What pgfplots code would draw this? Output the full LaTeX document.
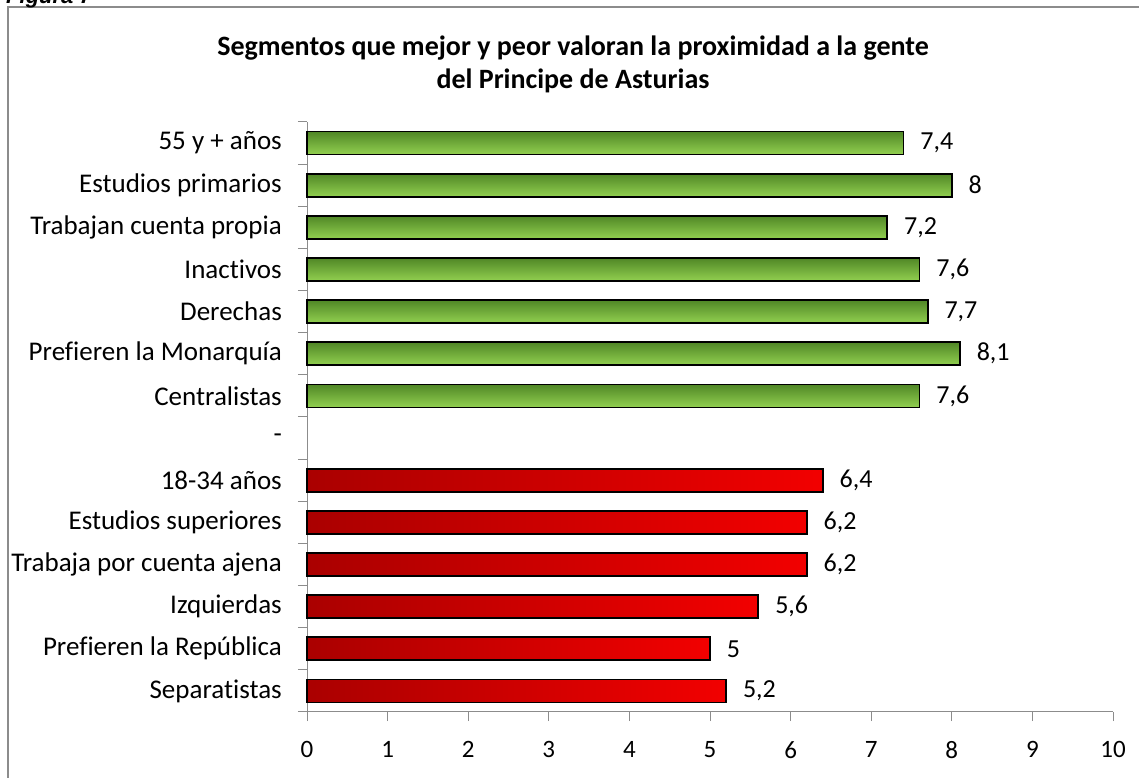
\documentclass[border=0pt]{standalone}
\usepackage{pgfplots}
\pgfplotsset{compat=1.18}
\usepackage{fontspec}
\setmainfont{Carlito}[Ligatures=NoCommon]
\newfontfamily\arialfont{Liberation Sans}
\definecolor{gtop}{RGB}{80,135,38}
\definecolor{gbot}{RGB}{146,208,80}
\definecolor{rleft}{RGB}{170,0,0}
\definecolor{rright}{RGB}{242,0,0}
\definecolor{axgray}{RGB}{140,140,140}
\pgfplotsset{
  gbar/.style={xbar, bar shift=0pt, bar width=23bp, draw=black, line width=1.8bp, top color=gtop, bottom color=gbot},
  rbar/.style={xbar, bar shift=0pt, bar width=23bp, draw=black, line width=1.8bp, left color=rleft, right color=rright},
}
\begin{document}
\begin{tikzpicture}[x=1bp,y=1bp]
\begin{axis}[
  at={(307bp,66bp)}, anchor=south west,
  scale only axis, width=806bp, height=590bp,
  xmin=0, xmax=10, ymin=-0.5, ymax=13.5,
  axis lines*=left,
  axis line style={draw=axgray, line width=1bp},
  xtick={0,1,...,10},
  ytick={-0.5,0.5,...,13.5},
  yticklabels={Separatistas,Prefieren la República,Izquierdas,Trabaja por cuenta ajena,Estudios superiores,18-34 años,-,Centralistas,Prefieren la Monarquía,Derechas,Inactivos,Trabajan cuenta propia,Estudios primarios,55 y + años,{}},
  yticklabel style={font=\fontsize{27bp}{32bp}\selectfont, yshift=21.07bp, anchor=east, inner sep=0pt, xshift=-16bp},
  xticklabel style={font=\fontsize{25bp}{30bp}\selectfont, inner sep=0pt, yshift=-20bp},
  /pgf/number format/assume math mode=true,
  tick align=outside,
  major tick length=9bp,
  tick style={draw=axgray, line width=1bp},
  clip=false,
  point meta=explicit symbolic,
  nodes near coords,
  nodes near coords style={font=\fontsize{26bp}{30bp}\selectfont, anchor=west, inner sep=0pt, xshift=16bp},
]
\addplot[gbar] coordinates {(7.4,13) [7,4]};
\addplot[gbar] coordinates {(8,12) [8]};
\addplot[gbar] coordinates {(7.2,11) [7,2]};
\addplot[gbar] coordinates {(7.6,10) [7,6]};
\addplot[gbar] coordinates {(7.7,9) [7,7]};
\addplot[gbar] coordinates {(8.1,8) [8,1]};
\addplot[gbar] coordinates {(7.6,7) [7,6]};
\addplot[rbar] coordinates {(6.4,5) [6,4]};
\addplot[rbar] coordinates {(6.2,4) [6,2]};
\addplot[rbar] coordinates {(6.2,3) [6,2]};
\addplot[rbar] coordinates {(5.6,2) [5,6]};
\addplot[rbar] coordinates {(5,1) [5]};
\addplot[rbar] coordinates {(5.2,0) [5,2]};
\end{axis}
\node[font=\fontsize{28bp}{33bp}\selectfont\bfseries, align=center] at (573bp,714bp) {Segmentos que mejor y peor valoran la proximidad a la gente\\del Principe de Asturias};
\draw[axgray, line width=1.2bp] (8bp,-5bp) -- (8bp,771bp) -- (1145bp,771bp);
\node[font=\arialfont\fontsize{22bp}{26bp}\selectfont\bfseries\itshape, anchor=base west, inner sep=0pt] at (6bp,774bp) {Figura 7};
\pgfresetboundingbox
\useasboundingbox (0,0) rectangle (1139bp,778bp);
\end{tikzpicture}
\end{document}
